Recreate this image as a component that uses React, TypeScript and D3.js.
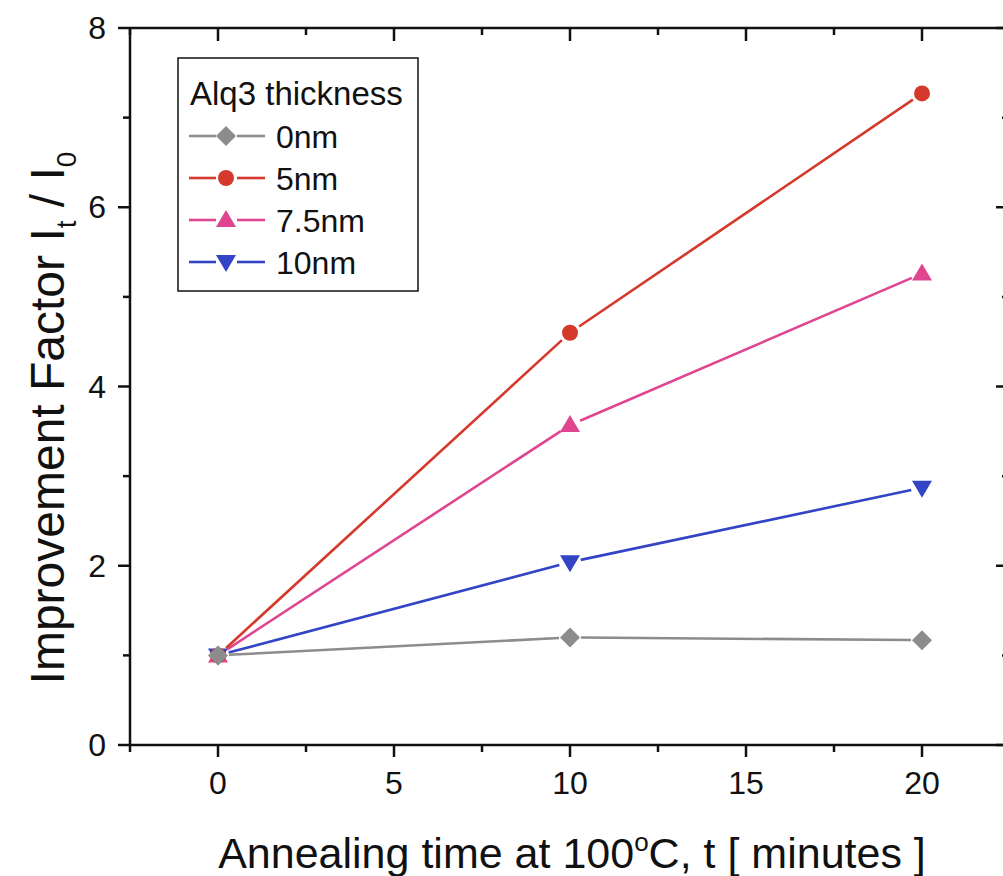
import React from 'react';
import * as d3 from 'd3';

const times = [0, 10, 20];
const series = ['0nm', '5nm', '7.5nm', '10nm'];
const vals0 = [1.0, 1.2, 1.17];
const vals5 = [1.0, 4.6, 7.27];
const vals75 = [1.0, 3.57, 5.26];
const vals10 = [1.0, 2.04, 2.87];
const colors = ['#8c8c8c', '#d4392b', '#e0458f', '#3344c4'];
const shapes = ['diamond', 'circle', 'triangle', 'down'];
const xTicks = [0, 5, 10, 15, 20];
const xMinor = [-2.5, 2.5, 7.5, 12.5, 17.5, 22.5];
const yTicks = [0, 2, 4, 6, 8];
const yMinor = [1, 3, 5, 7];

const W = 1003, H = 876;
const x = d3.scaleLinear().domain([-2.5, 22.5]).range([130, 1010]);
const y = d3.scaleLinear().domain([0, 8]).range([745, 28]);

function Marker({ shape, cx, cy, color }: any) {
  const s = 10;
  if (shape === 'circle') return <circle cx={cx} cy={cy} r={8} fill={color} />;
  if (shape === 'diamond')
    return <path d={`M${cx},${cy - s}L${cx + s},${cy}L${cx},${cy + s}L${cx - s},${cy}Z`} fill={color} />;
  if (shape === 'triangle')
    return <path d={`M${cx},${cy - 10}L${cx + 10},${cy + 7}L${cx - 10},${cy + 7}Z`} fill={color} />;
  return <path d={`M${cx},${cy + 10}L${cx + 10},${cy - 7}L${cx - 10},${cy - 7}Z`} fill={color} />;
}

export default function App() {
  const all = [vals0, vals5, vals75, vals10];
  const gap = 11;
  const font = 'Liberation Sans, Arial, sans-serif';

  const segs = (vals: number[]) => {
    const out: any[] = [];
    for (let i = 0; i < vals.length - 1; i++) {
      const x1 = x(times[i]), y1 = y(vals[i]), x2 = x(times[i + 1]), y2 = y(vals[i + 1]);
      const len = Math.hypot(x2 - x1, y2 - y1);
      const ux = (x2 - x1) / len, uy = (y2 - y1) / len;
      out.push([x1 + ux * gap, y1 + uy * gap, x2 - ux * gap, y2 - uy * gap]);
    }
    return out;
  };

  // back to front so gray ends up on top at t=0
  const order = [3, 2, 1, 0];

  return (
    <svg width={W} height={H} style={{ position: 'absolute', left: 0, top: 0, background: '#fff' }}>
      <rect width={W} height={H} fill="#fff" />
      <g stroke="#111" strokeWidth={2.5} fill="none">
        <line x1={x(-2.5)} x2={x(22.5)} y1={y(0)} y2={y(0)} />
        <line x1={x(-2.5)} x2={x(22.5)} y1={y(8)} y2={y(8)} />
        <line x1={x(-2.5)} x2={x(-2.5)} y1={y(0)} y2={y(8)} />
        <line x1={x(22.5)} x2={x(22.5)} y1={y(0)} y2={y(8)} />
        {xTicks.map(t => (
          <g key={'xt' + t}>
            <line x1={x(t)} x2={x(t)} y1={y(0)} y2={y(0) + 12} />
            <line x1={x(t)} x2={x(t)} y1={y(8)} y2={y(8) + 13} />
          </g>
        ))}
        {xMinor.map(t => (
          <g key={'xm' + t}>
            <line x1={x(t)} x2={x(t)} y1={y(0)} y2={y(0) + 7} />
            <line x1={x(t)} x2={x(t)} y1={y(8)} y2={y(8) + 7} />
          </g>
        ))}
        {yTicks.map(t => (
          <g key={'yt' + t}>
            <line x1={x(-2.5) - 12} x2={x(-2.5)} y1={y(t)} y2={y(t)} />
            <line x1={x(22.5) - 14} x2={x(22.5)} y1={y(t)} y2={y(t)} />
          </g>
        ))}
        {yMinor.map(t => (
          <g key={'ym' + t}>
            <line x1={x(-2.5) - 7} x2={x(-2.5)} y1={y(t)} y2={y(t)} />
            <line x1={x(22.5) - 8} x2={x(22.5)} y1={y(t)} y2={y(t)} />
          </g>
        ))}
      </g>
      <g fontFamily={font} fontSize={32} fill="#111">
        {xTicks.map(t => (
          <text key={'xl' + t} x={x(t)} y={794} textAnchor="middle">{t}</text>
        ))}
        {yTicks.map(t => (
          <text key={'yl' + t} x={106} y={y(t) + 11} textAnchor="end">{t}</text>
        ))}
      </g>
      <text x={572} y={868} textAnchor="middle" fontFamily={font} fontSize={43} fill="#111">
        Annealing time at 100<tspan dy={-17} fontSize={26}>o</tspan><tspan dy={17}>C, t [ minutes ]</tspan>
      </text>
      <text transform="translate(64,418) rotate(-90)" textAnchor="middle" fontFamily={font} fontSize={48} fill="#111">
        Improvement Factor I<tspan dy={12} fontSize={28}>t</tspan><tspan dy={-12}> / I</tspan><tspan dy={12} fontSize={28}>0</tspan>
      </text>
      {order.map(si => (
        <g key={'s' + si}>
          {segs(all[si]).map((s, i) => (
            <line key={i} x1={s[0]} y1={s[1]} x2={s[2]} y2={s[3]} stroke={colors[si]} strokeWidth={2.6} />
          ))}
          {all[si].map((v, i) => (
            <Marker key={i} shape={shapes[si]} cx={x(times[i])} cy={y(v)} color={colors[si]} />
          ))}
        </g>
      ))}
      <rect x={178} y={58} width={240} height={233} fill="#fff" stroke="#111" strokeWidth={1.5} />
      <text x={190} y={105} fontFamily={font} fontSize={33} fill="#111">Alq3 thickness</text>
      {series.map((name, i) => {
        const ly = 136 + i * 42;
        return (
          <g key={name}>
            <line x1={189} x2={216} y1={ly} y2={ly} stroke={colors[i]} strokeWidth={2.6} />
            <line x1={237} x2={265} y1={ly} y2={ly} stroke={colors[i]} strokeWidth={2.6} />
            <Marker shape={shapes[i]} cx={226} cy={ly} color={colors[i]} />
            <text x={276} y={ly + 12} fontFamily={font} fontSize={32} fill="#111">{name}</text>
          </g>
        );
      })}
    </svg>
  );
}
